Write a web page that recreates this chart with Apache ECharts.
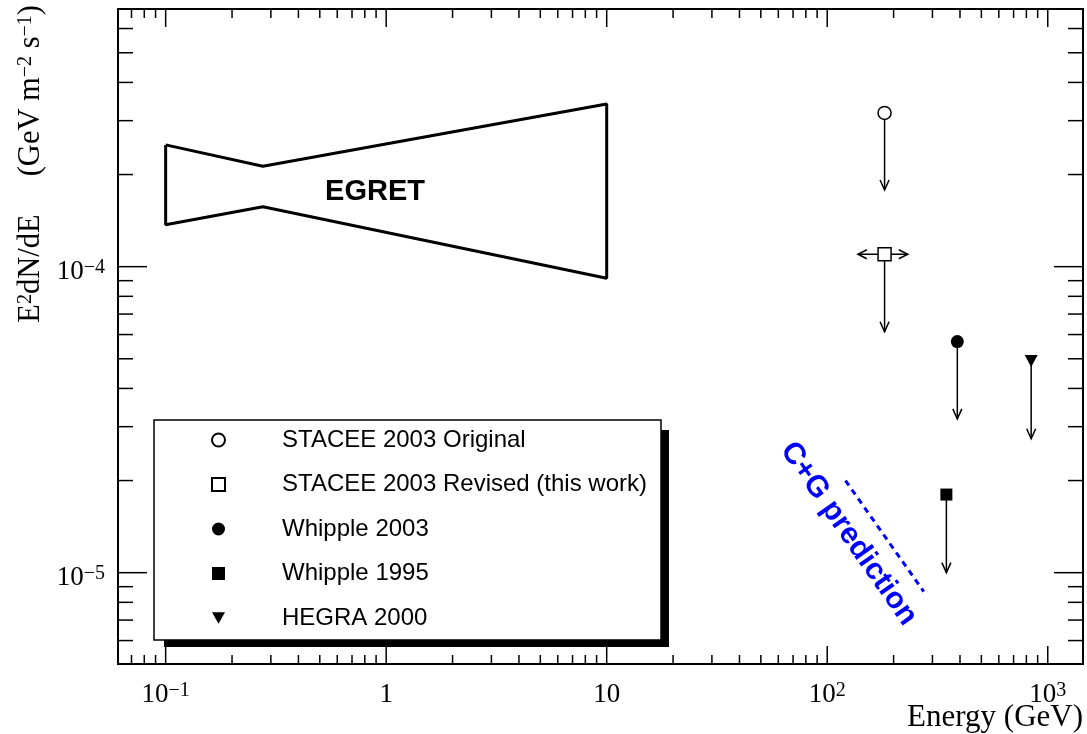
<!DOCTYPE html>
<html>
<head>
<meta charset="utf-8">
<script src="https://cdn.jsdelivr.net/npm/echarts@6/dist/echarts.min.js"></script>
<style>
  html, body { margin: 0; padding: 0; background: #fff; }
  #chart { width: 1087px; height: 734px; }
</style>
</head>
<body>
<div id="chart"></div>
<script>
// ---------------- data ----------------
const xMin = 0.0608, xMax = 1445;        // Energy (GeV), log axis
const yMin = 5.03e-6, yMax = 6.95e-4;    // E^2 dN/dE, log axis

// EGRET bow-tie outline (closed)
const egretE = [0.1, 0.276, 10, 10, 0.276, 0.1, 0.1];
const egretF = [2.50e-4, 2.13e-4, 3.40e-4, 9.16e-5, 1.57e-4, 1.37e-4, 2.50e-4];

// upper limits
const limitNames = ['STACEE 2003 Original', 'STACEE 2003 Revised (this work)', 'Whipple 2003', 'Whipple 1995', 'HEGRA 2000'];
const limitE   = [182, 182, 389, 347, 841];
const limitF   = [3.18e-4, 1.098e-4, 5.69e-5, 1.80e-5, 4.92e-5];
const limitTip = [1.78e-4, 6.13e-5, 3.18e-5, 1.00e-5, 2.74e-5];

// STACEE revised energy range arrows
const revRangeE = [137.7, 232];

// C+G prediction line
const cgE = [121, 274];
const cgF = [2.0e-5, 8.67e-6];

// text annotations
const egretLabel = [0.89, 1.757e-4];
const cgLabel = [125, 1.34e-5];

// axis ticks
const xMajorTicks = [0.1, 1, 10, 100, 1000];
const xMinorTicks = [0.07, 0.08, 0.09,
  0.2, 0.3, 0.4, 0.5, 0.6, 0.7, 0.8, 0.9,
  2, 3, 4, 5, 6, 7, 8, 9,
  20, 30, 40, 50, 60, 70, 80, 90,
  200, 300, 400, 500, 600, 700, 800, 900];
const yMajorTicks = [1e-5, 1e-4];
const yMinorTicks = [6e-6, 7e-6, 8e-6, 9e-6,
  2e-5, 3e-5, 4e-5, 5e-5, 6e-5, 7e-5, 8e-5, 9e-5,
  2e-4, 3e-4, 4e-4, 5e-4, 6e-4];

// ---------------- chart ----------------
const chart = echarts.init(document.getElementById('chart'), null, { renderer: 'canvas' });

const SERIF = 'Liberation Serif, Times New Roman, serif';
const SANS = 'Liberation Sans, Arial, sans-serif';

function powLabel(v) {
  const e = Math.round(Math.log10(v));
  if (e === 0) return '{m|1}';
  if (e === 1) return '{m|10}';
  return '{m|10}{s|' + (e < 0 ? '\u2212' : '') + Math.abs(e) + '}';
}
const labelRich = {
  m: { fontFamily: SERIF, fontSize: 27, lineHeight: 28, color: '#000' },
  s: { fontFamily: SERIF, fontSize: 20, lineHeight: 13, verticalAlign: 'top', color: '#000' }
};

function tickSeries(values, dir, len) {
  return {
    type: 'custom',
    coordinateSystem: 'cartesian2d',
    silent: true,
    clip: false,
    z: 5,
    data: values.map(v => dir === 'x' ? [v, yMin] : [xMin, v]),
    renderItem: function (params, api) {
      const cs = params.coordSys;
      const p = api.coord([api.value(0), api.value(1)]);
      const st = { stroke: '#000', lineWidth: 1.5 };
      if (dir === 'x') {
        const x = p[0];
        return { type: 'group', children: [
          { type: 'line', shape: { x1: x, y1: cs.y + cs.height, x2: x, y2: cs.y + cs.height - len }, style: st },
          { type: 'line', shape: { x1: x, y1: cs.y, x2: x, y2: cs.y + len }, style: st }
        ]};
      } else {
        const y = p[1];
        return { type: 'group', children: [
          { type: 'line', shape: { x1: cs.x, y1: y, x2: cs.x + len, y2: y }, style: st },
          { type: 'line', shape: { x1: cs.x + cs.width, y1: y, x2: cs.x + cs.width - len, y2: y }, style: st }
        ]};
      }
    }
  };
}

const arrowStyle = { stroke: '#000', lineWidth: 1.5, fill: null };

function markerSeries(i, symbol, size, fill) {
  return {
    name: limitNames[i], type: 'scatter', symbol: symbol, symbolSize: size, z: 4, silent: true,
    data: [[limitE[i], limitF[i]]],
    itemStyle: { color: fill, borderColor: '#000', borderWidth: fill === '#fff' ? 1.5 : 0, opacity: 1 }
  };
}

const series = [
  // EGRET bow-tie
  {
    name: 'EGRET', type: 'line', silent: true, symbol: 'none',
    data: egretE.map((e, i) => [e, egretF[i]]),
    lineStyle: { color: '#000', width: 3 },
    z: 3
  },
  // C+G prediction
  {
    name: 'C+G', type: 'line', silent: true, symbol: 'none',
    data: cgE.map((e, i) => [e, cgF[i]]),
    lineStyle: { color: '#0000ff', width: 3, type: [6, 5] },
    z: 3
  },
  // vertical upper-limit arrows
  {
    name: 'limits', type: 'custom', coordinateSystem: 'cartesian2d', silent: true, clip: false, z: 3,
    data: limitE.map((e, i) => [e, limitF[i], limitTip[i]]),
    renderItem: function (params, api) {
      const p0 = api.coord([api.value(0), api.value(1)]);
      const p1 = api.coord([api.value(0), api.value(2)]);
      return { type: 'group', children: [
        { type: 'line', shape: { x1: p0[0], y1: p0[1], x2: p1[0], y2: p1[1] }, style: arrowStyle },
        { type: 'polyline', shape: { points: [[p1[0] - 4.5, p1[1] - 10], [p1[0], p1[1]], [p1[0] + 4.5, p1[1] - 10]] }, style: arrowStyle }
      ]};
    }
  },
  // horizontal arrows (energy range of revised STACEE)
  {
    name: 'range', type: 'custom', coordinateSystem: 'cartesian2d', silent: true, clip: false, z: 3,
    data: revRangeE.map(e => [limitE[1], limitF[1], e]),
    renderItem: function (params, api) {
      const p0 = api.coord([api.value(0), api.value(1)]);
      const p1 = api.coord([api.value(2), api.value(1)]);
      const d = p1[0] > p0[0] ? 1 : -1;
      return { type: 'group', children: [
        { type: 'line', shape: { x1: p0[0], y1: p0[1], x2: p1[0], y2: p1[1] }, style: arrowStyle },
        { type: 'polyline', shape: { points: [[p1[0] - d * 9, p1[1] - 4.5], [p1[0], p1[1]], [p1[0] - d * 9, p1[1] + 4.5]] }, style: arrowStyle }
      ]};
    }
  },
  // markers
  markerSeries(0, 'circle', 13, '#fff'),
  markerSeries(1, 'rect', 13, '#fff'),
  markerSeries(2, 'circle', 13, '#000'),
  markerSeries(3, 'rect', 12, '#000'),
  markerSeries(4, 'path://M0,0L10,0L5,9Z', [13, 12], '#000'),
  // annotations
  {
    name: 'egretText', type: 'scatter', silent: true, symbolSize: 1, z: 4,
    itemStyle: { color: 'transparent', opacity: 1 },
    data: [egretLabel],
    label: { show: true, position: 'inside', formatter: 'EGRET', fontFamily: SANS, fontWeight: 'bold', fontSize: 29, color: '#000', opacity: 1 }
  },
  {
    name: 'cgText', type: 'scatter', silent: true, symbolSize: 1, z: 4,
    itemStyle: { color: 'transparent', opacity: 1 },
    data: [cgLabel],
    label: { show: true, position: 'inside', rotate: -55, formatter: 'C+G prediction', fontFamily: SANS, fontWeight: 'bold', fontSize: 30, color: '#0000ff', opacity: 1 }
  },
  tickSeries(xMajorTicks, 'x', 18),
  tickSeries(xMinorTicks, 'x', 9),
  tickSeries(yMajorTicks, 'y', 29),
  tickSeries(yMinorTicks, 'y', 15)
];

const option = {
  animation: false,
  backgroundColor: '#fff',
  grid: {
    left: 118, right: 4, top: 9, bottom: 70,
    show: true, borderColor: '#000', borderWidth: 2, backgroundColor: 'transparent',
    containLabel: false
  },
  graphic: [
    // legend drop shadow
    { type: 'rect', z: 3, silent: true, shape: { x: 164, y: 430, width: 505, height: 217 }, style: { fill: '#000' } }
  ],
  xAxis: {
    type: 'log', logBase: 10, min: xMin, max: xMax,
    axisLine: { show: false }, axisTick: { show: false }, splitLine: { show: false }, minorTick: { show: false },
    axisLabel: {
      show: true, interval: 0, margin: 17, showMinLabel: false, showMaxLabel: false,
      formatter: powLabel, rich: labelRich
    },
    name: 'Energy (GeV)', nameLocation: 'end', nameGap: 0, nameMoveOverlap: false,
    nameTextStyle: { fontFamily: SERIF, fontSize: 31, lineHeight: 31, color: '#000', align: 'right', verticalAlign: 'top', padding: [38, 0, 0, 0] }
  },
  yAxis: {
    type: 'log', logBase: 10, min: yMin, max: yMax,
    axisLine: { show: false }, axisTick: { show: false }, splitLine: { show: false }, minorTick: { show: false },
    axisLabel: {
      show: true, interval: 0, margin: 13, showMinLabel: false, showMaxLabel: false,
      padding: [10, 0, 0, 0],
      formatter: powLabel, rich: labelRich
    },
    name: '{m|E}{s|2}{m|dN/dE     (GeV m}{s|\u22122}{m| s}{s|\u22121}{m|)}',
    nameLocation: 'end', nameGap: 4, nameRotate: 90, nameMoveOverlap: false,
    nameTextStyle: {
      align: 'right', verticalAlign: 'bottom', padding: [0, 0, 72, 0],
      rich: {
        m: { fontFamily: SERIF, fontSize: 30.5, lineHeight: 30, color: '#000' },
        s: { fontFamily: SERIF, fontSize: 20, lineHeight: 14, verticalAlign: 'top', color: '#000' }
      }
    }
  },
  legend: {
    show: true, orient: 'vertical', left: 154, top: 420, z: 6,
    data: limitNames,
    itemWidth: 13, itemHeight: 13, itemGap: 20.5,
    padding: [8, 14, 10, 57],
    backgroundColor: '#fff', borderColor: '#000', borderWidth: 1.5, borderRadius: 0,
    selectedMode: false,
    formatter: function (name) { return '{sp| }{t|' + name + '}'; },
    textStyle: {
      color: '#000', fontFamily: SANS, fontSize: 24, lineHeight: 24,
      rich: {
        sp: { width: 52, fontSize: 24, lineHeight: 24 },
        t: { fontFamily: SANS, fontSize: 24, lineHeight: 24, color: '#000' }
      }
    }
  },
  tooltip: { show: false },
  series: series
};

chart.setOption(option);
</script>
</body>
</html>
